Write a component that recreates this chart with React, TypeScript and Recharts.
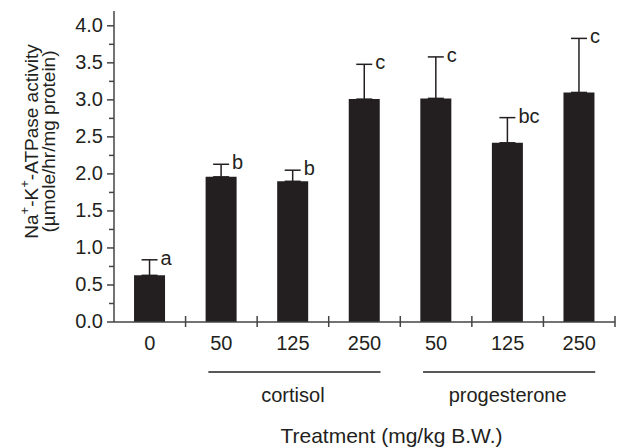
import { BarChart, Bar, XAxis, YAxis, ErrorBar, LabelList } from "recharts";

const doses = ["0", "50", "125", "250", "50", "125", "250"];
const groups = ["", "cortisol", "cortisol", "cortisol", "progesterone", "progesterone", "progesterone"];
const activity = [0.63, 1.96, 1.9, 3.01, 3.02, 2.42, 3.1];
const sem = [0.21, 0.17, 0.15, 0.47, 0.56, 0.34, 0.73];
const letters = ["a", "b", "b", "c", "c", "bc", "c"];
const yTicks = [0, 0.25, 0.5, 0.75, 1, 1.25, 1.5, 1.75, 2, 2.25, 2.5, 2.75, 3, 3.25, 3.5, 3.75, 4];

const W = 619;
const H = 447;
const Y_AXIS_W = 114;
const X_AXIS_H = 125;
const RIGHT = 4;
const band = (W - Y_AXIS_W - RIGHT) / doses.length;

const font = "'Liberation Sans', Arial, Helvetica, sans-serif";
const ink = "#231f20";
const axisInk = "#444";

const data = doses.map((d, i) => ({
  dose: d,
  mean: activity[i],
  err: [0, sem[i]],
  sig: letters[i],
}));

function XTick(props: any) {
  const { x, y, payload } = props;
  const i = props.index ?? payload.index;
  const g = groups[i];
  let groupEl = null;
  if (g && g !== groups[i - 1]) {
    let n = 1;
    while (groups[i + n] === g) n++;
    groupEl = (
      <g>
        <line x1={x - 13} x2={x + (n - 1) * band + 16} y1={y + 50} y2={y + 50} stroke={ink} strokeWidth={1.3} />
        <text x={x + ((n - 1) * band) / 2} y={y + 80} textAnchor="middle" fontSize={20} fill={ink} fontFamily={font}>
          {g}
        </text>
      </g>
    );
  }
  return (
    <g>
      <line x1={x + band / 2} x2={x + band / 2} y1={y - 6} y2={y + 5} stroke={axisInk} strokeWidth={1.5} />
      <text x={x} y={y + 28} textAnchor="middle" fontSize={20} fill={ink} fontFamily={font}>
        {payload.value}
      </text>
      {groupEl}
    </g>
  );
}

function YTick(props: any) {
  const { x, y, payload } = props;
  const v = payload.value;
  const major = Math.abs(v * 2 - Math.round(v * 2)) < 1e-6;
  return (
    <g>
      <line x1={x - (major ? 7 : 5)} x2={x} y1={y} y2={y} stroke={axisInk} strokeWidth={1.5} />
      {major && (
        <text x={x - 11} y={y + 6} textAnchor="end" fontSize={20} fill={ink} fontFamily={font}>
          {v.toFixed(1)}
        </text>
      )}
    </g>
  );
}

function YTitle({ viewBox }: any) {
  const cy = viewBox.y + viewBox.height / 2 - 25;
  const x1 = viewBox.x + 31;
  const x2 = viewBox.x + 48;
  return (
    <g fontFamily={font} fontSize={19} fill={ink}>
      <text x={x1} y={cy} textAnchor="middle" dominantBaseline="central" transform={`rotate(-90, ${x1}, ${cy})`}>
        <tspan>Na</tspan>
        <tspan dy={-7} fontSize={13}>+</tspan>
        <tspan dy={7}>-K</tspan>
        <tspan dy={-7} fontSize={13}>+</tspan>
        <tspan dy={7}>-ATPase activity</tspan>
      </text>
      <text x={x2} y={cy} textAnchor="middle" dominantBaseline="central" transform={`rotate(-90, ${x2}, ${cy})`}>
        (µmole/hr/mg protein)
      </text>
    </g>
  );
}

function XTitle({ viewBox }: any) {
  return (
    <text
      x={viewBox.x + viewBox.width / 2 + 27}
      y={viewBox.y + 121}
      textAnchor="middle"
      fontSize={21}
      fill={ink}
      fontFamily={font}
    >
      Treatment (mg/kg B.W.)
    </text>
  );
}

function SigLabel(props: any) {
  const { x, y, width, height, value, index } = props;
  const capY = y - (sem[index] * height) / activity[index];
  return (
    <text x={x + width / 2 + 11} y={capY + 5} fontSize={20} fill={ink} fontFamily={font}>
      {value}
    </text>
  );
}

export default function App() {
  return (
    <div style={{ position: "absolute", left: 0, top: 0, background: "#fff" }}>
      <BarChart
        width={W}
        height={H}
        data={data}
        margin={{ top: 11, right: RIGHT, bottom: 0, left: 0 }}
        barCategoryGap="28%"
      >
        <XAxis
          dataKey="dose"
          interval={0}
          height={X_AXIS_H}
          tickLine={false}
          tickSize={0}
          tickMargin={0}
          stroke={axisInk}
          strokeWidth={1.5}
          tick={<XTick />}
          label={{ content: (p: any) => <XTitle viewBox={p.viewBox} /> }}
        />
        <YAxis
          width={Y_AXIS_W}
          domain={[0, 4.2]}
          ticks={yTicks}
          interval={0}
          tickLine={false}
          tickSize={0}
          tickMargin={0}
          stroke={axisInk}
          strokeWidth={1.5}
          tick={<YTick />}
          label={{ content: (p: any) => <YTitle viewBox={p.viewBox} /> }}
        />
        <Bar dataKey="mean" fill={ink} isAnimationActive={false}>
          <ErrorBar dataKey="err" width={8} stroke={ink} strokeWidth={1.5} direction="y" />
          <LabelList dataKey="sig" content={<SigLabel />} />
        </Bar>
      </BarChart>
    </div>
  );
}
